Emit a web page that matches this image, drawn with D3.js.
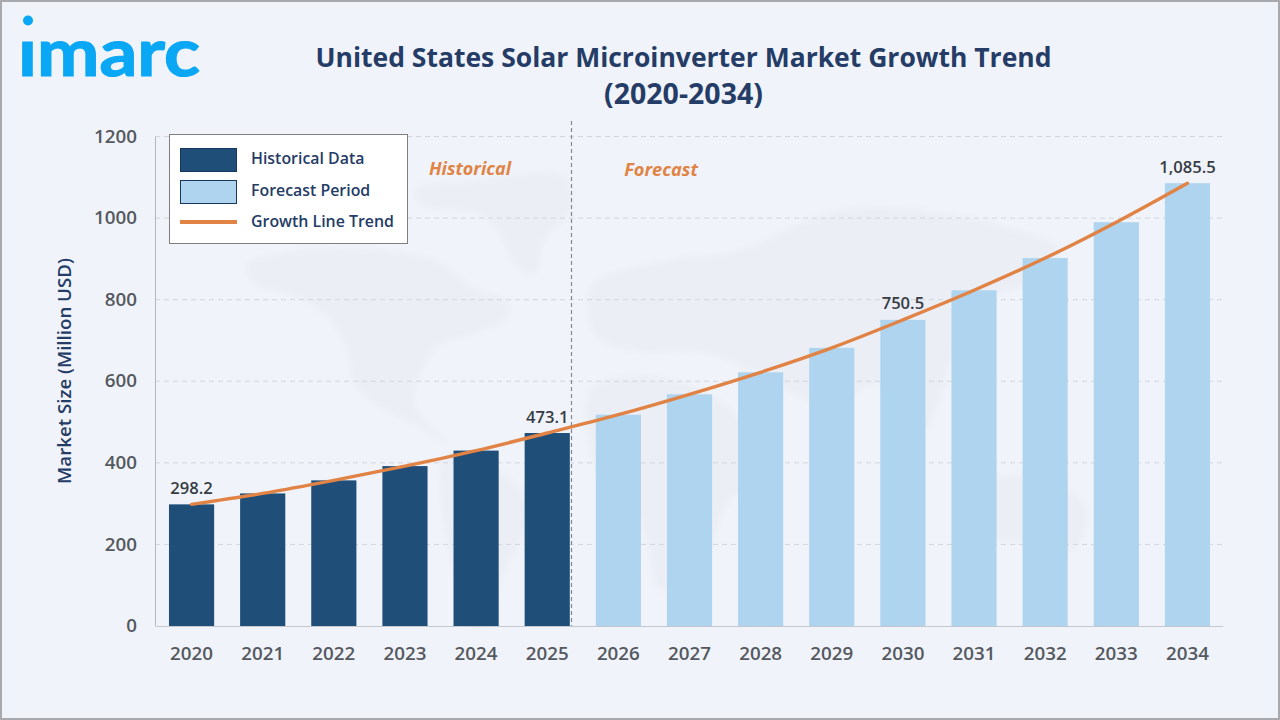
<!DOCTYPE html>
<html>
<head>
<meta charset="utf-8">
<script src="https://cdn.jsdelivr.net/npm/d3@7"></script>
<style>
html,body{margin:0;padding:0;background:#f0f4fa;overflow:hidden}
svg{display:block}
text{font-family:"Open Sans","Noto Sans",sans-serif}
</style>
</head>
<body>
<svg id="chart" width="1280" height="720"></svg>
<script>
// Market series, in million USD
const years = ["2020","2021","2022","2023","2024","2025","2026","2027","2028","2029","2030","2031","2032","2033","2034"];
const marketSize = [298.2,325,357,392,430,473.1,518,568,622,682,750.5,823,902,990,1085.5];
const historicalYears = ["2020","2021","2022","2023","2024","2025"];
const yTicks = [0,200,400,600,800,1000,1200];
const labelledYears = {"2020":"298.2","2025":"473.1","2030":"750.5","2034":"1,085.5"};
const legendItems = ["Historical Data","Forecast Period","Growth Line Trend"];
const titleLines = ["United States Solar Microinverter Market Growth Trend","(2020-2034)"];

// Rough continent outlines for the pale backdrop map
const landShapes = [
  [[415,190],[480,180],[565,176],[572,208],[545,240],[535,275],[515,265],[500,235],[480,215],[420,205]],
  [[247,265],[300,250],[380,250],[440,262],[470,285],[510,305],[505,320],[470,335],[440,345],[420,375],[415,405],[450,445],[425,430],[385,410],[355,385],[345,345],[325,315],[290,295],[255,285]],
  [[445,455],[500,470],[530,510],[505,570],[475,630],[458,585],[442,510]],
  [[592,285],[660,262],[740,250],[830,212],[900,208],[1000,225],[1060,250],[1040,280],[985,300],[955,350],[940,400],[920,435],[880,385],[830,405],[790,392],[750,370],[700,352],[640,352],[595,335]],
  [[590,390],[640,375],[720,400],[770,470],[730,500],[700,570],[660,590],[640,520],[600,480]],
  [[965,490],[1030,475],[1085,505],[1075,548],[1020,542],[965,532]]
];

const svg = d3.select("#chart");
const W = 1280, H = 720;

const x = d3.scaleBand().domain(years).range([156,1223]).paddingInner(0.365).paddingOuter(0.1825);
const y = d3.scaleLinear().domain([0,1200]).range([626,136.5]);

const darkBar = "#1f4e79", lightBar = "#aed4ef", orange = "#e08345", navy = "#253c66", grey = "#55595f";
const brand = "#0aa7f5";

svg.append("rect").attr("width",W).attr("height",H).attr("fill","#f0f4fa");

// Backdrop map, with softened coastlines
svg.append("filter").attr("id","soft").append("feGaussianBlur").attr("stdDeviation",3);
const land = d3.line().curve(d3.curveCatmullRomClosed.alpha(0.5));
svg.append("g").attr("filter","url(#soft)").selectAll("path").data(landShapes).join("path")
  .attr("d",land).attr("fill","#ebeff5");

// Gridlines
svg.append("g").selectAll("line").data(yTicks.filter(d=>d>0)).join("line")
  .attr("x1",155).attr("x2",1224).attr("y1",d=>y(d)).attr("y2",d=>y(d))
  .attr("stroke","#d2d6dc").attr("stroke-width",1).attr("stroke-dasharray","5 4");

// Axes
const yAxis = d3.axisLeft(y).tickValues(yTicks).tickFormat(d3.format("d")).tickSize(0).tickPadding(18);
const gy = svg.append("g").attr("transform","translate(155,0)").call(yAxis);
gy.select(".domain").attr("stroke","#b4b8be").attr("stroke-width",1);
gy.selectAll("text").attr("font-size",18.8).attr("font-weight",600).attr("fill",grey).attr("dy","0.3em");

const xAxis = d3.axisBottom(x).tickSize(0).tickPadding(21);
const gx = svg.append("g").attr("transform","translate(0,626)").call(xAxis);
gx.select(".domain").attr("stroke","#c4c8ce").attr("stroke-width",1);
gx.selectAll("text").attr("font-size",18.8).attr("font-weight",600).attr("fill",grey);

// Bars
svg.append("g").selectAll("rect").data(years).join("rect")
  .attr("x",d=>x(d)).attr("width",x.bandwidth())
  .attr("y",(d,i)=>y(marketSize[i])).attr("height",(d,i)=>y(0)-y(marketSize[i]))
  .attr("fill",d=>historicalYears.includes(d)?darkBar:lightBar);

// Trend line
const trend = d3.line().x((d,i)=>x(years[i])+x.bandwidth()/2).y(d=>y(d)).curve(d3.curveCatmullRom.alpha(0.5));
svg.append("path").datum(marketSize).attr("d",trend).attr("fill","none")
  .attr("stroke",orange).attr("stroke-width",3.4).attr("stroke-linecap","round");

// Value labels
svg.append("g").selectAll("text").data(years.filter(d=>labelledYears[d])).join("text")
  .attr("x",d=>x(d)+x.bandwidth()/2).attr("y",d=>y(marketSize[years.indexOf(d)])-10.5)
  .attr("text-anchor","middle").attr("font-size",16.6).attr("font-weight",600).attr("fill","#373c43")
  .text(d=>labelledYears[d]);

// Divider between historical and forecast
svg.append("line").attr("x1",571.5).attr("x2",571.5).attr("y1",121).attr("y2",626)
  .attr("stroke","#85898f").attr("stroke-width",1.2).attr("stroke-dasharray","4 3");
svg.append("text").attr("x",470).attr("y",175).attr("text-anchor","middle")
  .attr("font-size",18).attr("font-weight",700).attr("font-style","italic").attr("fill",orange).text("Historical");
svg.append("text").attr("x",661).attr("y",176).attr("text-anchor","middle")
  .attr("font-size",18.2).attr("font-weight",700).attr("font-style","italic").attr("fill",orange).text("Forecast");

// Y axis title
svg.append("text").attr("transform","translate(71,371) rotate(-90)").attr("text-anchor","middle")
  .attr("font-size",18.7).attr("font-weight",600).attr("fill",navy).text("Market Size (Million USD)");

// Chart title: the year range runs a little larger than the headline
const titleSizes = [26.5,28.5];
svg.append("g").selectAll("text").data(titleLines).join("text")
  .attr("x",683.5).attr("y",(d,i)=>67+i*37).attr("text-anchor","middle")
  .attr("font-size",(d,i)=>titleSizes[i]).attr("font-weight",700).attr("fill",navy).text(d=>d);

// Legend
const legend = svg.append("g");
legend.append("rect").attr("x",169.5).attr("y",134.5).attr("width",238).attr("height",109)
  .attr("fill","#ffffff").attr("stroke","#7f7f7f").attr("stroke-width",1);
const rowY = [160,192,221];
legendItems.forEach((label,i)=>{
  if(i<2){
    legend.append("rect").attr("x",180.5).attr("y",rowY[i]-11.5).attr("width",56).attr("height",23)
      .attr("fill",i===0?darkBar:lightBar).attr("stroke","#17375e").attr("stroke-width",1);
  } else {
    legend.append("line").attr("x1",180).attr("x2",237).attr("y1",rowY[i]+1).attr("y2",rowY[i]+1)
      .attr("stroke",orange).attr("stroke-width",4);
  }
  legend.append("text").attr("x",251).attr("y",[163.5,196,227][i]).attr("font-size",15.9).attr("font-weight",600)
    .attr("fill",navy).text(label);
});

// Brand mark: the word is clipped below its own i-dot, which sits higher on a separate circle
svg.append("clipPath").attr("id","brand-clip").append("rect")
  .attr("x",0).attr("y",40).attr("width",260).attr("height",50);
svg.append("text").attr("x",18).attr("y",75.5).attr("font-size",66).attr("font-weight",700)
  .style("font-family","Lato, sans-serif").attr("fill",brand)
  .attr("stroke",brand).attr("stroke-width",1.2)
  .attr("clip-path","url(#brand-clip)")
  .attr("textLength",182).attr("lengthAdjust","spacingAndGlyphs").text("imarc");
svg.append("circle").attr("cx",28).attr("cy",20.5).attr("r",5).attr("fill",brand);

// Outer frame
svg.append("rect").attr("x",1).attr("y",1).attr("width",W-2).attr("height",H-2)
  .attr("fill","none").attr("stroke","#a9a9ad").attr("stroke-width",2);
</script>
</body>
</html>
